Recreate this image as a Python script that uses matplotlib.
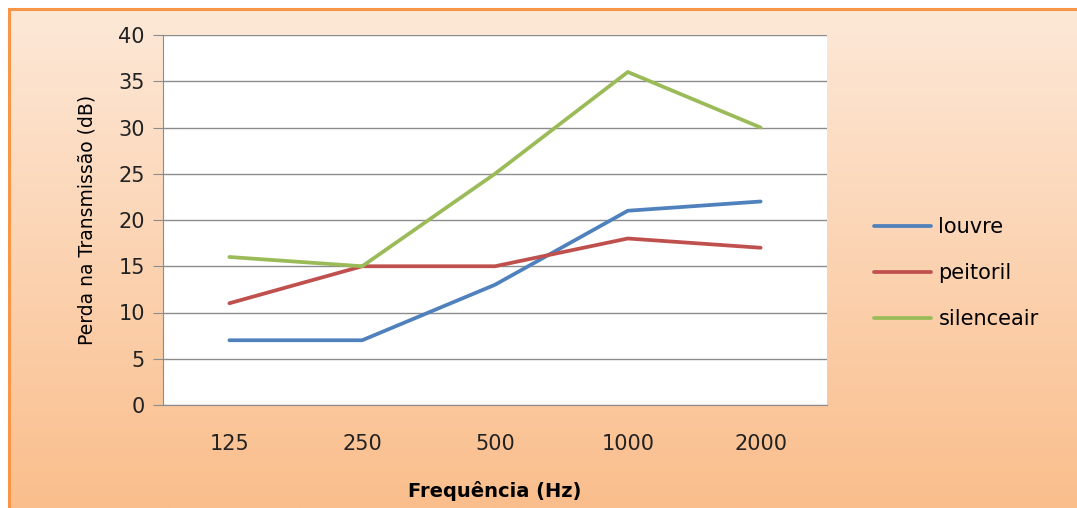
import numpy as np
import matplotlib
matplotlib.use('Agg')
import matplotlib.pyplot as plt
from matplotlib.patches import Rectangle

# dados
frequencias = ['125', '250', '500', '1000', '2000']
louvre = [7, 7, 13, 21, 22]
peitoril = [11, 15, 15, 18, 17]
silenceair = [16, 15, 25, 36, 30]

plt.rcParams['font.family'] = ['DejaVu Sans']

fig = plt.figure(figsize=(10.77, 5.08), dpi=100)
fig.patch.set_facecolor('white')

# fundo em degradê laranja
bg = fig.add_axes([0, 0, 1, 1], zorder=0)
topo = np.array([253, 233, 217]) / 255
base = np.array([250, 190, 140]) / 255
t = np.linspace(0, 1, 256)[:, None]
grad = topo[None, :] * (1 - t) + base[None, :] * t
bg.imshow(grad[:, None, :], aspect='auto', extent=[0, 1, 0, 1], origin='upper')
bg.set_xlim(0, 1)
bg.set_ylim(0, 1)
bg.axis('off')
# faixa branca e borda
x0, y0 = 9 / 1077, 1 - 9 / 508
bg.add_patch(Rectangle((0, y0), 1, 1 - y0, color='white', zorder=2))
bg.add_patch(Rectangle((0, 0), x0, 1, color='white', zorder=2))
bg.plot([x0, 1], [y0, y0], color='#F79646', lw=2.2, zorder=3)
bg.plot([x0, x0], [0, y0], color='#F79646', lw=2.2, zorder=3)

ax = fig.add_axes([163 / 1077, 103 / 508, 664 / 1077, 370 / 508], zorder=1)
ax.set_facecolor('white')
x = np.arange(len(frequencias))
ax.plot(x, louvre, color='#4F81BD', lw=2.7, label='louvre', solid_capstyle='round')
ax.plot(x, peitoril, color='#C0504D', lw=2.7, label='peitoril', solid_capstyle='round')
ax.plot(x, silenceair, color='#9BBB59', lw=2.7, label='silenceair', solid_capstyle='round')

ax.set_xlim(-0.5, 4.5)
ax.set_ylim(0, 40)
ax.set_yticks(range(0, 41, 5))
ax.set_xticks(x)
ax.set_xticklabels(frequencias)
ax.yaxis.grid(True, color='#8C8C8C', lw=1)
ax.set_axisbelow(True)
for s in ['top', 'right']:
    ax.spines[s].set_visible(False)
ax.spines['left'].set_color('#8C8C8C')
ax.spines['bottom'].set_color('#8C8C8C')
ax.tick_params(axis='y', length=7, color='#8C8C8C', labelsize=15, pad=6, labelcolor='#222222')
ax.tick_params(axis='x', length=0, labelsize=15, pad=21, labelcolor='#222222')

ax.set_xlabel('Frequência (Hz)', fontsize=14, fontweight='bold', labelpad=19)
ax.set_ylabel('Perda na Transmissão (dB)', fontsize=13.5, labelpad=16)

fig.legend(loc='center left', bbox_to_anchor=(855 / 1077, 1 - 273 / 508), frameon=False,
           fontsize=15, handlelength=2.75, handletextpad=0.35, labelspacing=1.25)

fig.savefig('out.png', dpi=100)
